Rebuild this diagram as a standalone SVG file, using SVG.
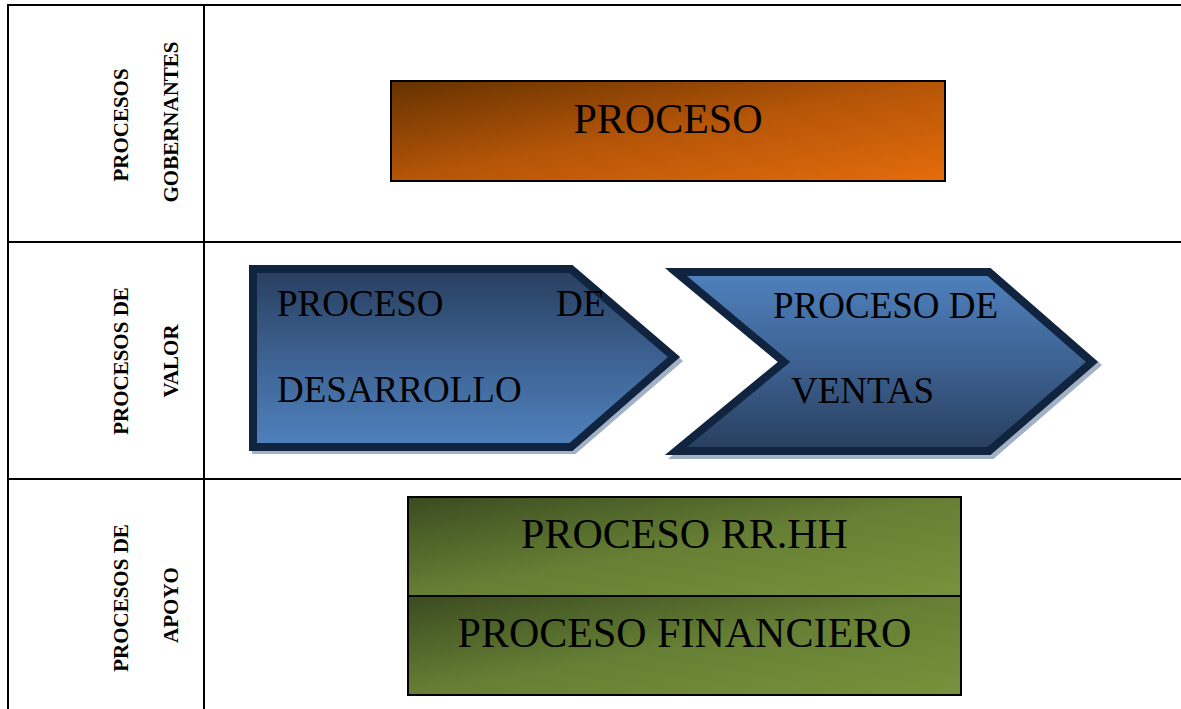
<svg xmlns="http://www.w3.org/2000/svg" width="1181" height="709" viewBox="0 0 1181 709">
<defs>
<linearGradient id="gOr" x1="0" y1="0" x2="1" y2="1">
<stop offset="0" stop-color="#653200"/><stop offset="0.5" stop-color="#b55508"/><stop offset="1" stop-color="#e56c0c"/>
</linearGradient>
<linearGradient id="gGr" x1="0" y1="0" x2="1" y2="1">
<stop offset="0" stop-color="#3a4b20"/><stop offset="0.5" stop-color="#667f34"/><stop offset="1" stop-color="#77933c"/>
</linearGradient>
<linearGradient id="gB1" x1="0" y1="0" x2="0" y2="1">
<stop offset="0" stop-color="#283e5e"/><stop offset="0.5" stop-color="#3d6292"/><stop offset="1" stop-color="#4f81bd"/>
</linearGradient>
<linearGradient id="gB2" x1="0" y1="0" x2="0" y2="1">
<stop offset="0" stop-color="#4f81bd"/><stop offset="0.5" stop-color="#3d6292"/><stop offset="1" stop-color="#283e5e"/>
</linearGradient>
</defs>
<style>
.grid{stroke:#000;stroke-width:2;fill:none}
.lbl{font-family:"Liberation Serif","Times New Roman",serif;font-weight:bold;font-size:21px;fill:#000}
.big{font-family:"Liberation Serif","Times New Roman",serif;font-size:42px;fill:#000}
.mid{font-family:"Liberation Serif","Times New Roman",serif;font-size:37px;fill:#000}
.chev{stroke:#10243f;stroke-width:8;stroke-linejoin:miter}
.shadow{fill:none;stroke:#a3b1c6;stroke-width:8}
</style>
<rect width="1181" height="709" fill="#fff"/>
<g id="table">
<line class="grid" x1="8" y1="5" x2="1181" y2="5"/>
<line class="grid" x1="8" y1="4" x2="8" y2="709"/>
<line class="grid" x1="204" y1="5" x2="204" y2="709"/>
<line class="grid" x1="8" y1="242" x2="1181" y2="242"/>
<line class="grid" x1="8" y1="479" x2="1181" y2="479"/>
</g>
<g id="row-labels">
<text class="lbl" transform="translate(128,125) rotate(-90)" text-anchor="middle">PROCESOS</text>
<text class="lbl" transform="translate(178,122) rotate(-90)" text-anchor="middle">GOBERNANTES</text>
<text class="lbl" transform="translate(128,361) rotate(-90)" text-anchor="middle">PROCESOS DE</text>
<text class="lbl" transform="translate(178,361) rotate(-90)" text-anchor="middle">VALOR</text>
<text class="lbl" transform="translate(128,598) rotate(-90)" text-anchor="middle">PROCESOS DE</text>
<text class="lbl" transform="translate(178,605) rotate(-90)" text-anchor="middle">APOYO</text>
</g>
<g id="proceso">
<rect x="391" y="81" width="554" height="100" fill="url(#gOr)" stroke="#000" stroke-width="2"/>
<text class="big" x="668" y="133" text-anchor="middle">PROCESO</text>
</g>
<g id="proceso-desarrollo">
<polygon class="shadow" points="256,272 574,272 677,361 574,450 256,450"/>
<polygon class="chev" fill="url(#gB1)" points="253,269 571,269 674,357 571,447 253,447"/>
<text class="mid" x="277" y="316">PROCESO</text>
<text class="mid" x="556" y="316">DE</text>
<text class="mid" x="277" y="402">DESARROLLO</text>
</g>
<g id="proceso-ventas">
<polygon class="shadow" points="679,275 992,275 1096,365 992,455 679,455 788,365"/>
<polygon class="chev" fill="url(#gB2)" points="676,272 989,272 1092,362 989,451 676,451 784,362"/>
<text class="mid" x="773" y="318">PROCESO DE</text>
<text class="mid" x="791" y="403">VENTAS</text>
</g>
<g id="proceso-rrhh">
<rect x="408" y="497" width="553" height="99" fill="url(#gGr)" stroke="#000" stroke-width="2"/>
<text class="big" x="684.5" y="548" text-anchor="middle">PROCESO RR.HH</text>
</g>
<g id="proceso-financiero">
<rect x="408" y="596" width="553" height="99" fill="url(#gGr)" stroke="#000" stroke-width="2"/>
<text class="big" x="684.5" y="647" text-anchor="middle">PROCESO FINANCIERO</text>
</g>
</svg>
